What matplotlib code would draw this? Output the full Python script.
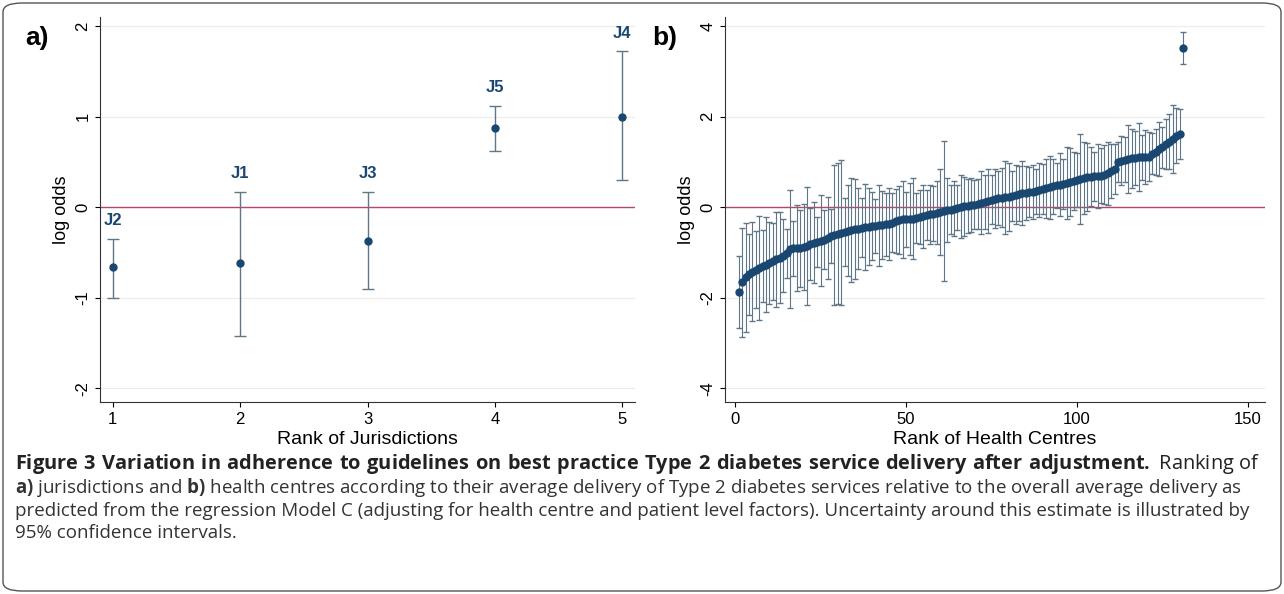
import matplotlib
matplotlib.use('Agg')
import matplotlib.pyplot as plt
from matplotlib.patches import FancyBboxPatch

plt.rcParams['axes.unicode_minus'] = False
plt.rcParams['font.family'] = ['Liberation Sans', 'DejaVu Sans']
plt.rcParams['mathtext.fontset'] = 'custom'
plt.rcParams['mathtext.bf'] = 'Open Sans:bold'
plt.rcParams['mathtext.rm'] = 'Open Sans'

# panel a: jurisdictions
jur_rank = [1, 2, 3, 4, 5]
jur_label = ['J2', 'J1', 'J3', 'J5', 'J4']
jur_est = [-0.66, -0.62, -0.37, 0.87, 1.00]
jur_lo = [-1.00, -1.42, -0.90, 0.62, 0.30]
jur_hi = [-0.35, 0.17, 0.17, 1.12, 1.72]

# panel b: health centres
hc_est = [
    -1.87, -1.66, -1.55, -1.48, -1.42, -1.38, -1.34, -1.30, -1.27, -1.23,
    -1.19, -1.15, -1.11, -1.07, -1.02, -0.92, -0.91, -0.91, -0.90, -0.88,
    -0.85, -0.81, -0.78, -0.76, -0.74, -0.72, -0.68, -0.64, -0.61, -0.58,
    -0.56, -0.54, -0.52, -0.50, -0.48, -0.47, -0.45, -0.44, -0.43, -0.42,
    -0.41, -0.40, -0.39, -0.38, -0.37, -0.34, -0.30, -0.28, -0.27, -0.27,
    -0.26, -0.25, -0.24, -0.22, -0.20, -0.18, -0.16, -0.14, -0.12, -0.10,
    -0.08, -0.06, -0.05, -0.03, -0.01, 0.01, 0.02, 0.03, 0.05, 0.06,
    0.08, 0.10, 0.12, 0.14, 0.17, 0.19, 0.20, 0.21, 0.22, 0.23,
    0.25, 0.28, 0.30, 0.31, 0.32, 0.33, 0.34, 0.35, 0.38, 0.40,
    0.42, 0.44, 0.46, 0.48, 0.50, 0.52, 0.54, 0.56, 0.58, 0.60,
    0.62, 0.64, 0.66, 0.67, 0.68, 0.69, 0.70, 0.72, 0.75, 0.80,
    0.85, 1.00, 1.03, 1.05, 1.07, 1.08, 1.09, 1.10, 1.10, 1.11,
    1.12, 1.18, 1.22, 1.28, 1.32, 1.40, 1.45, 1.50, 1.58, 1.62,
    3.52,
]
hc_half = [
    0.80, 1.20, 1.20, 0.90, 1.10, 0.85, 1.15, 0.80, 1.05, 0.90,
    0.85, 1.05, 1.00, 0.80, 0.55, 1.30, 0.60, 0.95, 0.85, 0.95,
    1.30, 0.80, 0.90, 0.55, 1.00, 0.65, 0.90, 0.60, 1.55, 1.55,
    1.60, 0.75, 1.00, 1.15, 1.10, 0.90, 0.65, 0.95, 0.85, 0.75,
    0.60, 0.90, 0.75, 0.70, 0.80, 0.65, 0.70, 0.75, 0.85, 0.60,
    0.80, 0.90, 0.55, 0.60, 0.70, 0.55, 0.65, 0.60, 0.70, 0.95,
    1.55, 0.70, 0.55, 0.60, 0.50, 0.70, 0.65, 0.60, 0.60, 0.55,
    0.55, 0.70, 0.60, 0.70, 0.55, 0.65, 0.60, 0.65, 0.80, 0.75,
    0.55, 0.65, 0.60, 0.70, 0.60, 0.55, 0.60, 0.50, 0.60, 0.55,
    0.65, 0.70, 0.60, 0.50, 0.70, 0.55, 0.80, 0.75, 0.65, 0.60,
    1.00, 0.80, 0.75, 0.65, 0.55, 0.70, 0.60, 0.65, 0.70, 0.60,
    0.55, 0.45, 0.55, 0.50, 0.75, 0.65, 0.60, 0.75, 0.50, 0.60,
    0.55, 0.45, 0.50, 0.60, 0.45, 0.55, 0.60, 0.75, 0.60, 0.55,
    0.35,
]
hc_rank = list(range(1, len(hc_est) + 1))

DOT = '#1a4771'
BAR = '#5f7688'
REF = '#b5476b'

fig = plt.figure(figsize=(12.84, 5.94), dpi=100)
fig.patch.set_facecolor('white')
W, H = 1284, 594


def style(ax):
    ax.grid(axis='y', color='#ececec', lw=0.8)
    ax.set_axisbelow(True)
    for s in ['top', 'right']:
        ax.spines[s].set_visible(False)
    for s in ['left', 'bottom']:
        ax.spines[s].set_color('#333333')
    ax.tick_params(axis='y', labelrotation=90, labelsize=12)
    ax.tick_params(axis='x', labelsize=12)
    for t in ax.get_yticklabels():
        t.set_va('center')
    ax.axhline(0, color=REF, lw=1.0, zorder=1)


# panel a
ax1 = fig.add_axes([100 / W, 1 - 402 / H, 535 / W, 385 / H])
yerr = [[e - l for e, l in zip(jur_est, jur_lo)], [h - e for e, h in zip(jur_est, jur_hi)]]
ax1.errorbar(jur_rank, jur_est, yerr=yerr, fmt='o', color=DOT, ms=5,
             ecolor=BAR, elinewidth=1, capsize=4, zorder=3)
for x, h, lab in zip(jur_rank, jur_hi, jur_label):
    ax1.text(x, h + 0.12, lab, ha='center', va='bottom', fontsize=12,
             fontweight='bold', color=DOT)
ax1.set_xlim(0.9, 5.1)
ax1.set_ylim(-2.15, 2.1)
ax1.set_yticks([-2, -1, 0, 1, 2])
ax1.set_xticks([1, 2, 3, 4, 5])
ax1.set_ylabel('log odds', fontsize=13)
ax1.set_xlabel('Rank of Jurisdictions', fontsize=14, labelpad=3)
style(ax1)
fig.text(25 / W, 1 - 45 / H, 'a)', fontsize=19, fontweight='bold')

# panel b
ax2 = fig.add_axes([725 / W, 1 - 402 / H, 540 / W, 385 / H])
ax2.errorbar(hc_rank, hc_est, yerr=hc_half, fmt='o', color=DOT, ms=5,
             ecolor=BAR, elinewidth=0.8, capsize=2.5, zorder=3)
ax2.set_xlim(-3, 155)
ax2.set_ylim(-4.3, 4.2)
ax2.set_yticks([-4, -2, 0, 2, 4])
ax2.set_xticks([0, 50, 100, 150])
ax2.set_ylabel('log odds', fontsize=13)
ax2.set_xlabel('Rank of Health Centres', fontsize=14, labelpad=3)
style(ax2)
fig.text(652 / W, 1 - 45 / H, 'b)', fontsize=19, fontweight='bold')

# caption
cfont = dict(family=['Open Sans', 'DejaVu Sans'], fontsize=13.5)
fig.text(15 / W, 1 - 464 / H,
         r'$\bf{Figure\ 3\ Variation\ in\ adherence\ to\ guidelines\ on\ best\ practice\ Type\ 2\ diabetes\ service\ delivery\ after\ adjustment.}$'
         ' Ranking of', va='center', color='#222222',
         family=['Open Sans', 'DejaVu Sans'], fontsize=14.4)
cap = (r'$\bf{a)}$ jurisdictions and $\bf{b)}$ health centres according to their average delivery of Type 2 diabetes services relative to the overall average delivery as' '\n'
       'predicted from the regression Model C (adjusting for health centre and patient level factors). Uncertainty around this estimate is illustrated by\n'
       '95% confidence intervals.')
fig.text(15 / W, 1 - 476 / H, cap, va='top', color='#333333', linespacing=1.25, **cfont)

frame = FancyBboxPatch((3 / W, 3 / H), 1 - 6 / W, 1 - 6 / H,
                       boxstyle='round,pad=0,rounding_size=0.015',
                       transform=fig.transFigure, fill=False, ec='#555555', lw=1)
fig.patches.append(frame)

plt.savefig('out.png', dpi=100, facecolor='white')
